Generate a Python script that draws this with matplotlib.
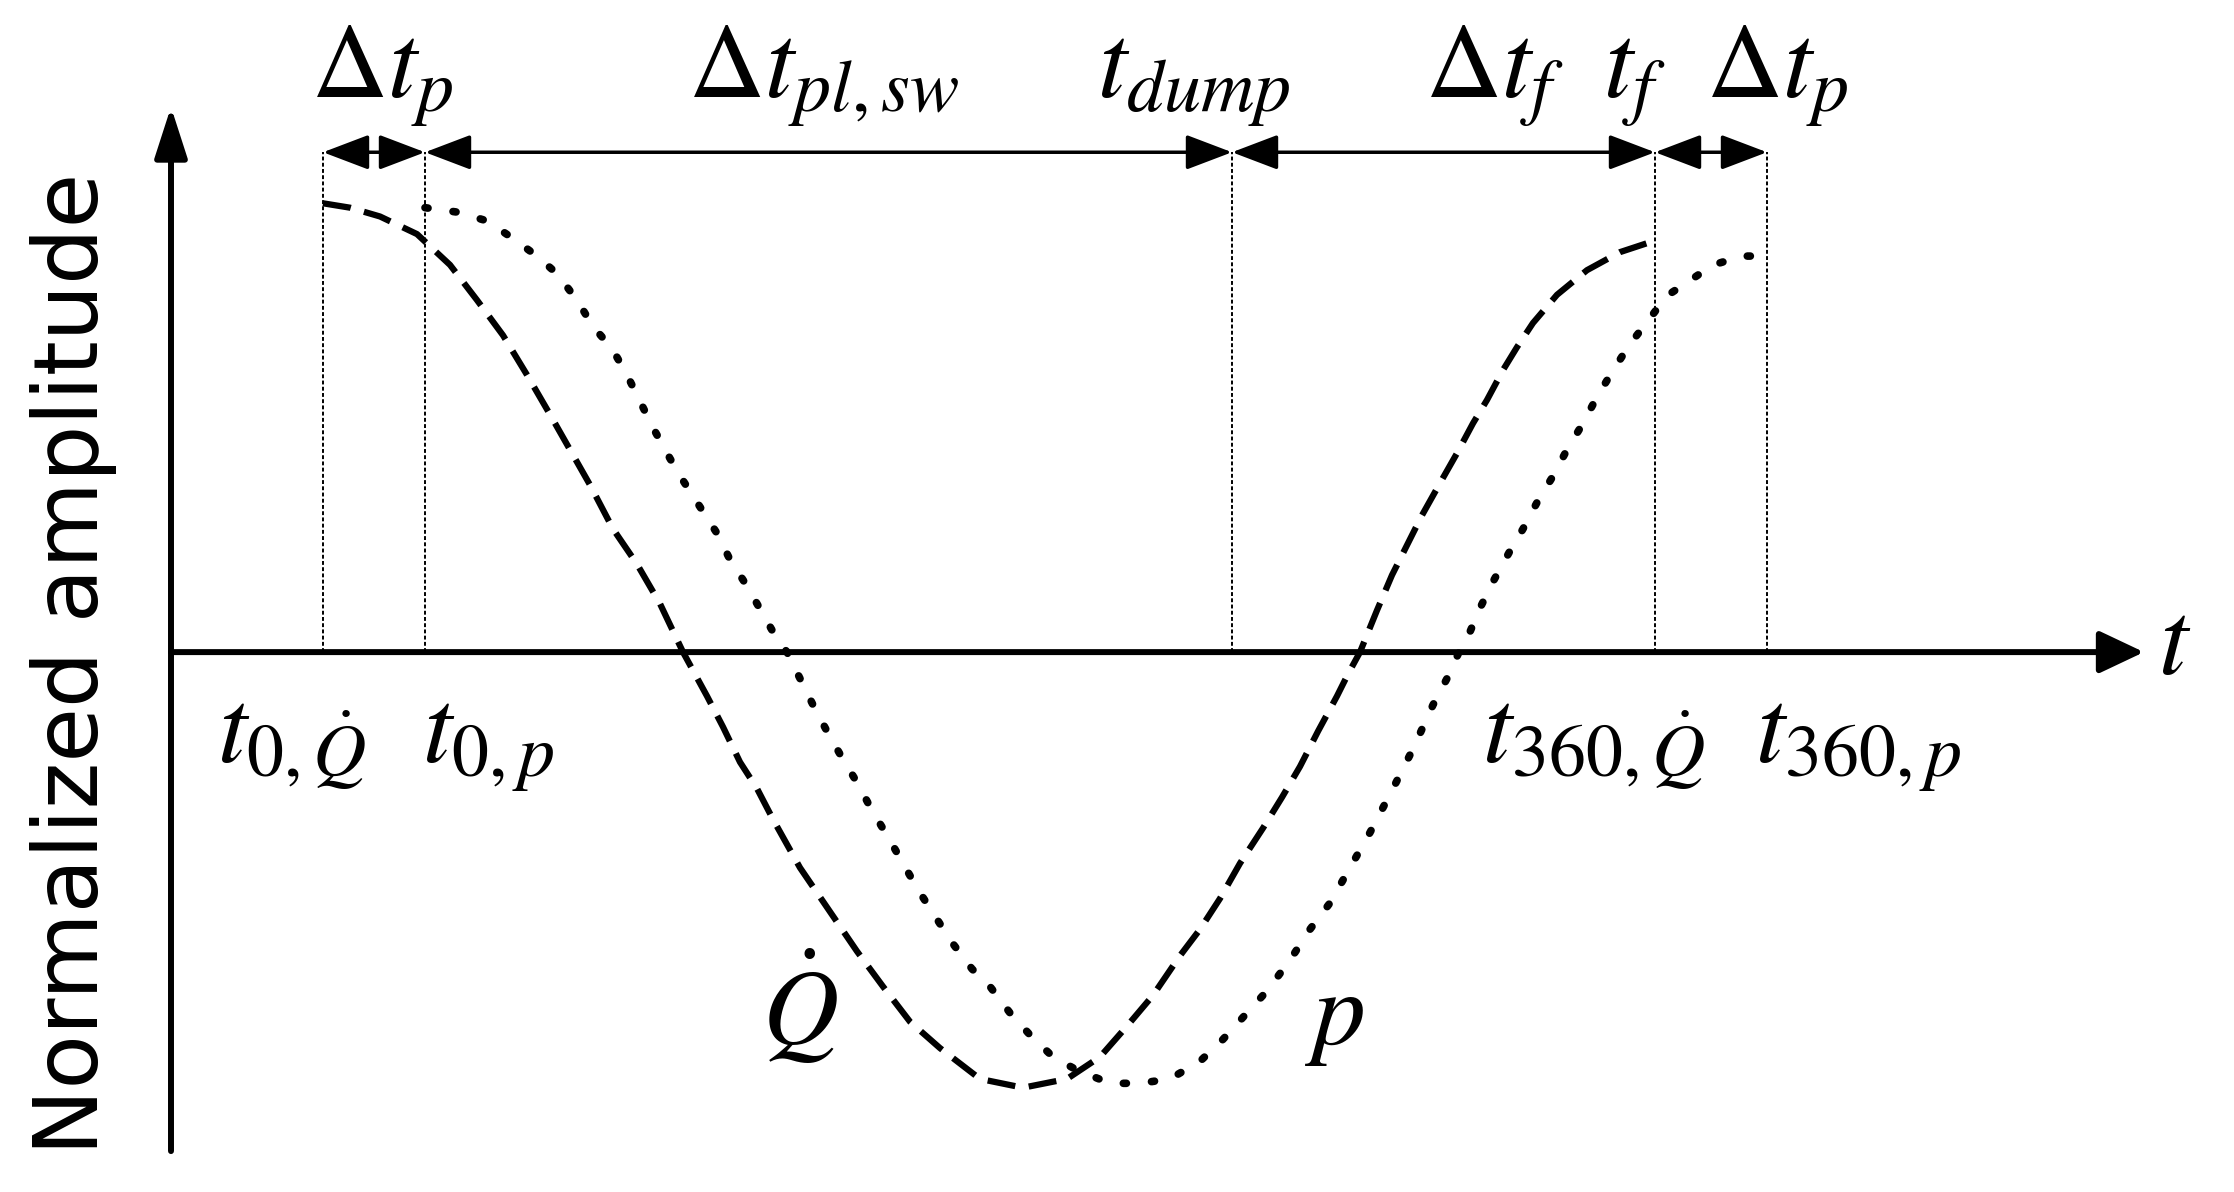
import numpy as np
import matplotlib
matplotlib.use('Agg')
import matplotlib.pyplot as plt

plt.rcParams['mathtext.fontset'] = 'stix'

# tiempos caracteristicos (unidades arbitrarias): t0_Q, t0_p, t_dump, t360_Q, t360_p
t_marks = [1.52, 2.54, 10.61, 14.84, 15.96]

# tasa de liberacion de calor Qdot (linea discontinua)
t_q = [1.52, 1.79, 2.09, 2.46, 2.79, 3.06, 3.32, 3.56, 3.79, 3.99,
       4.19, 4.42, 4.66, 4.89, 5.12, 5.36, 5.52, 5.69, 5.86, 6.02,
       6.29, 6.59, 6.86, 7.12, 7.39, 7.69, 8.09, 8.52, 8.96, 9.29,
       9.56, 9.82, 10.09, 10.29, 10.49, 10.69, 10.92, 11.11, 11.29, 11.47,
       11.66, 11.77, 11.89, 12.06, 12.21, 12.36, 12.51, 12.69, 12.86, 13.02,
       13.16, 13.32, 13.46, 13.62, 13.86, 14.16, 14.49, 14.77]
q = [1.02, 1.01, 0.99, 0.95, 0.88, 0.80, 0.72, 0.63, 0.54, 0.46,
     0.38, 0.28, 0.20, 0.11, 0.00, -0.10, -0.17, -0.25, -0.31, -0.38,
     -0.49, -0.59, -0.68, -0.76, -0.84, -0.90, -0.97, -0.99, -0.97, -0.92,
     -0.85, -0.78, -0.69, -0.63, -0.56, -0.48, -0.40, -0.33, -0.26, -0.18,
     -0.10, -0.05, 0.00, 0.095, 0.175, 0.243, 0.311, 0.384, 0.452, 0.52,
     0.573, 0.641, 0.693, 0.748, 0.812, 0.868, 0.909, 0.93]

# presion p (linea punteada)
t_p = [2.54, 2.86, 3.16, 3.42, 3.66, 3.86, 4.06, 4.22, 4.41, 4.56,
       4.69, 4.82, 4.99, 5.12, 5.29, 5.46, 5.59, 5.76, 5.91, 6.06,
       6.16, 6.29, 6.42, 6.56, 6.71, 6.87, 7.01, 7.17, 7.32, 7.47,
       7.64, 7.81, 8.01, 8.19, 8.39, 8.59, 8.82, 9.06, 9.39, 9.69,
       9.99, 10.29, 10.52, 10.72, 10.96, 11.19, 11.39, 11.59, 11.79, 11.99,
       12.22, 12.42, 12.62, 12.76, 12.88, 12.96, 13.09, 13.22, 13.39, 13.52,
       13.66, 13.82, 13.96, 14.12, 14.26, 14.42, 14.59, 14.76, 14.86, 14.96,
       15.16, 15.42, 15.72, 15.94]
p = [1.01, 1.00, 0.98, 0.94, 0.90, 0.86, 0.80, 0.74, 0.69, 0.63,
     0.57, 0.51, 0.44, 0.39, 0.33, 0.27, 0.21, 0.15, 0.09, 0.03,
     0.00, -0.06, -0.12, -0.18, -0.24, -0.30, -0.36, -0.42, -0.48, -0.54,
     -0.60, -0.66, -0.72, -0.76, -0.82, -0.87, -0.92, -0.95, -0.98, -0.98,
     -0.97, -0.93, -0.88, -0.83, -0.77, -0.70, -0.63, -0.57, -0.49, -0.41,
     -0.31, -0.22, -0.12, -0.06, 0.00, 0.03, 0.10, 0.16, 0.23, 0.28,
     0.34, 0.40, 0.46, 0.52, 0.58, 0.64, 0.70, 0.75, 0.78, 0.81,
     0.84, 0.88, 0.90, 0.90]

top_labels = [r'$\Delta t_p$', r'$\Delta t_{pl,sw}$', r'$t_{dump}$',
              r'$\Delta t_f$', r'$t_f$', r'$\Delta t_p$']
top_label_t = [1.40, 5.17, 9.26, 12.54, 14.32, 15.35]
bottom_labels = [r'$t_{0,\dot{Q}}$', r'$t_{0,p}$', r'$t_{360,\dot{Q}}$', r'$t_{360,p}$']
bottom_label_t = [0.46, 2.51, 13.11, 15.84]

fig = plt.figure(figsize=(22.34, 11.92), dpi=100)
ax = fig.add_axes([0, 0, 1, 1])
ax.set_xlim(-1.71, 20.63)
ax.set_ylim(-1.227, 1.482)
ax.axis('off')

row = 1.136  # altura de las flechas de intervalos

# ejes con flecha
ax.annotate('', xy=(19.73, 0), xytext=(0, 0),
            arrowprops=dict(arrowstyle='-|>,head_length=0.55,head_width=0.26',
                            lw=4.3, color='black', shrinkA=0, shrinkB=0,
                            mutation_scale=50))
ax.annotate('', xy=(0, 1.239), xytext=(0, -1.134),
            arrowprops=dict(arrowstyle='-|>,head_length=0.62,head_width=0.2',
                            lw=4.3, color='black', shrinkA=0, shrinkB=0,
                            mutation_scale=50))

# lineas verticales de referencia
ax.vlines(t_marks, 0, row, colors='black', linestyles=(0, (2, 1.2)), lw=1.4)

# flechas dobles entre tiempos
for t1, t2 in zip(t_marks[:-1], t_marks[1:]):
    ax.annotate('', xy=(t2, row), xytext=(t1, row),
                arrowprops=dict(arrowstyle='<|-|>,head_length=0.5,head_width=0.19',
                                lw=2.5, color='black', shrinkA=0, shrinkB=0,
                                mutation_scale=57))

# curvas
ax.plot(t_q, q, color='black', lw=4.5, linestyle=(0, (4.5, 2.2)))
ax.plot(t_p, p, color='black', lw=5.5, linestyle=(0, (0.4, 3.3)),
        dash_capstyle='round')

# textos
for lab, t in zip(top_labels, top_label_t):
    ax.text(t, 1.261, lab, fontsize=76, ha='left', va='baseline')
for lab, t in zip(bottom_labels, bottom_label_t):
    ax.text(t, -0.25, lab, fontsize=76, ha='left', va='baseline')
ax.text(5.91, -0.89, r'$\dot{Q}$', fontsize=76, ha='left', va='baseline')
ax.text(11.34, -0.89, r'$p$', fontsize=76, ha='left', va='baseline')
ax.text(19.87, -0.05, r'$t$', fontsize=76, ha='left', va='baseline')

ax.text(-0.97, -0.027, 'Normalized amplitude', fontsize=64, rotation=90,
        ha='center', va='center', family='DejaVu Sans')

fig.savefig('out.png', dpi=100)
